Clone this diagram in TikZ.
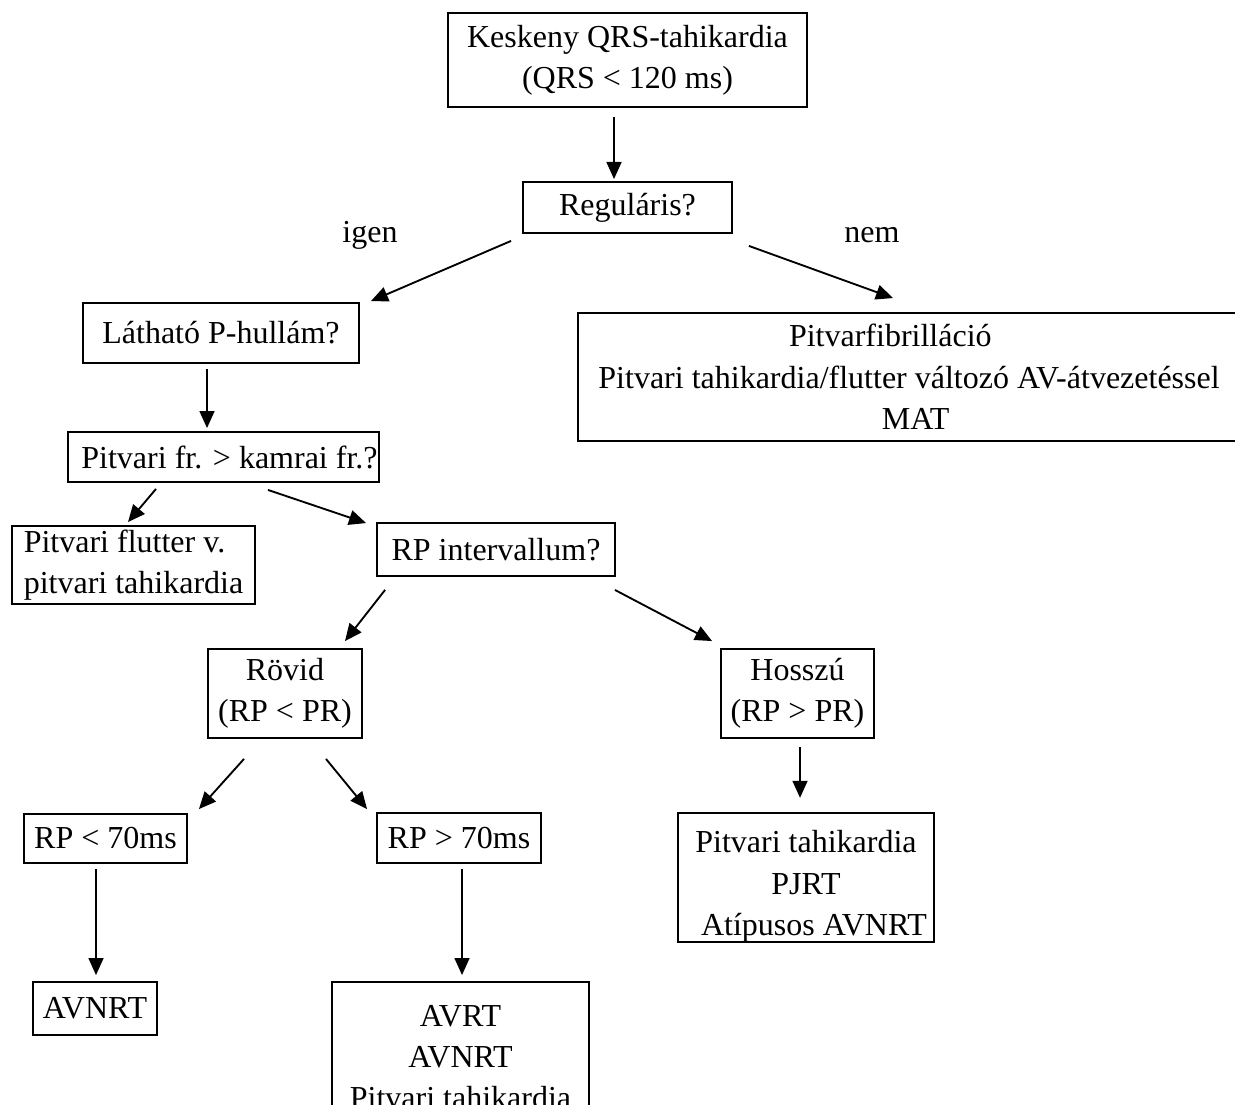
\documentclass[tikz,border=0pt]{standalone}
\usepackage{fontspec}
\setmainfont{Liberation Serif}
\usetikzlibrary{arrows.meta}

\begin{document}
\begin{tikzpicture}[x=0.375pt,y=-0.375pt,
 font=\fontsize{12}{15.5}\selectfont,
 box/.style={draw,line width=0.7pt,inner sep=0pt,align=center},
 sz/.style 2 args={minimum width=#1*0.375pt,minimum height=#2*0.375pt},
 arr/.style={line width=0.7pt,-{Triangle[length=6.4pt,width=5.6pt]}}]
 \clip (0,0) rectangle (1235,1104);
 \node[box,sz={359}{94}] (qrs) at (627.5,60) {Keskeny QRS-tahikardia\\(QRS < 120 ms)};
 \node[box,sz={209}{51}] (reg) at (627.5,207.5) {Reguláris?};
 \node (igen) at (370,235.5) {igen};
 \node (nem) at (872,235.5) {nem};
 \node[box,sz={276}{60}] (lat) at (221,333) {Látható P-hullám?};
 \node[box,sz={662}{128}] (fib) at (909,377) {Pitvarfibrilláció\hspace*{14pt}\\Pitvari tahikardia/flutter változó AV-átvezetéssel\\\hspace*{5pt}MAT};
 \node[box,sz={311}{50}] (pfr) at (223.5,457) {\hspace*{4.5pt}Pitvari fr. > kamrai fr.?};
 \node[box,sz={243}{78},align=left] (flut) at (133.5,565) {Pitvari flutter v.\\pitvari tahikardia};
 \node[box,sz={238}{53}] (rpi) at (496,549.5) {RP intervallum?};
 \node[box,sz={154}{89}] (rov) at (285,693.5) {Rövid\\(RP < PR)};
 \node[box,sz={153}{89}] (hos) at (797.5,693.5) {Hosszú\\(RP > PR)};
 \node[box,sz={163}{49}] (lt) at (105.5,838.5) {RP < 70ms};
 \node[box,sz={164}{50}] (gt) at (459,838) {RP > 70ms};
 \node[box,sz={256}{129}] (pj) at (806,877.5) {\rule{0pt}{15pt}Pitvari tahikardia\\PJRT\\\hspace*{6pt}Atípusos AVNRT};
 \node[box,sz={124}{53}] (avn) at (95,1008.5) {AVNRT};
 \node[box,sz={257}{150}] (avrt) at (460.5,1057) {AVRT\\AVNRT\\Pitvari tahikardia};
 \draw[arr] ([shift={(-13.5,9)}]qrs.south) -- ([shift={(-13.5,-2)}]reg.north);
 \draw[arr] ([shift={(-11,7)}]reg.south west) -- ([shift={(11,-1)}]lat.north east);
 \draw[arr] ([shift={(16,12)}]reg.south east) -- ([shift={(-16,-14)}]fib.north);
 \draw[arr] ([shift={(-14,5)}]lat.south) -- ([shift={(-16.5,-3)}]pfr.north);
 \draw[arr] ([shift={(-67.5,6)}]pfr.south) -- ([shift={(-5.5,-3)}]flut.north);
 \draw[arr] ([shift={(44.5,7)}]pfr.south) -- ([shift={(-10,1)}]rpi.north west);
 \draw[arr] ([shift={(9,13)}]rpi.south west) -- ([shift={(60,-7)}]rov.north);
 \draw[arr] ([shift={(-1,13)}]rpi.south east) -- ([shift={(-8,-7)}]hos.north west);
 \draw[arr] ([shift={(2.5,8)}]hos.south) -- ([shift={(-6,-14)}]pj.north);
 \draw[arr] ([shift={(-41,20)}]rov.south) -- ([shift={(11,-4)}]lt.north east);
 \draw[arr] ([shift={(41,20)}]rov.south) -- ([shift={(-9,-3)}]gt.north west);
 \draw[arr] ([shift={(-9.5,5)}]lt.south) -- ([shift={(1,-6)}]avn.north);
 \draw[arr] ([shift={(3,5)}]gt.south) -- ([shift={(1.5,-6)}]avrt.north);
\end{tikzpicture}
\end{document}
